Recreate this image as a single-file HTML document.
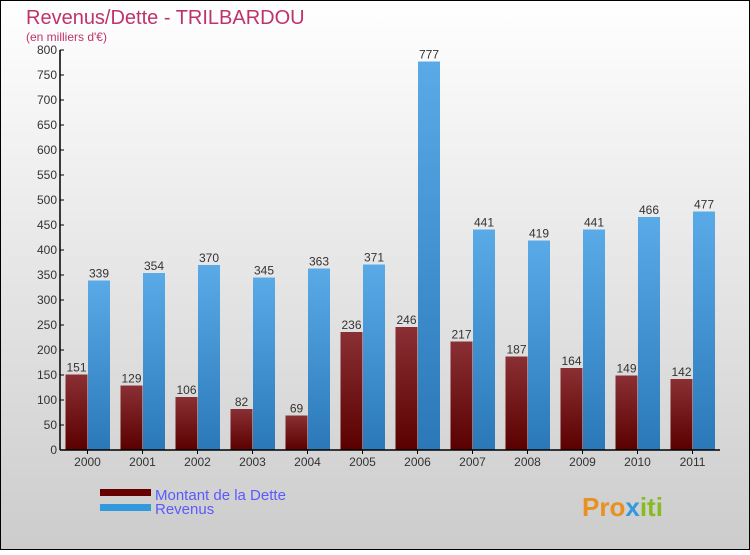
<!DOCTYPE html>
<html><head><meta charset="utf-8"><style>
body{margin:0;}
#c{width:750px;height:550px;position:relative;font-family:"Liberation Sans",sans-serif;}
</style></head><body>
<div id="c">
<svg id="s" width="750" height="550" xmlns="http://www.w3.org/2000/svg">
<defs>
<linearGradient id="bg" x1="0" y1="0" x2="0" y2="1"><stop offset="0" stop-color="#ffffff"/><stop offset="1" stop-color="#cccccc"/></linearGradient>
<linearGradient id="gd" x1="0" y1="0" x2="0" y2="1"><stop offset="0" stop-color="#8a3034"/><stop offset="1" stop-color="#5a0000"/></linearGradient>
<linearGradient id="gr" x1="0" y1="0" x2="0" y2="1"><stop offset="0" stop-color="#5aaae8"/><stop offset="1" stop-color="#2a78b8"/></linearGradient>
</defs>
<rect x="0.5" y="0.5" width="749" height="549" fill="url(#bg)" stroke="#000"/>
<text x="26" y="24" font-size="20" fill="#c0336a">Revenus/Dette - TRILBARDOU</text>
<text x="26" y="41" font-size="12" fill="#c0336a">(en milliers d'€)</text>
<g id="plot"></g>
<rect x="100" y="489" width="51" height="7" fill="#660000"/>
<text x="155" y="500" font-size="15" fill="#5a5aff">Montant de la Dette</text>
<rect x="100" y="504" width="51" height="7" fill="#3399dd"/>
<text x="155" y="514" font-size="15" fill="#5a5aff">Revenus</text>
<text x="582" y="516" font-size="26" font-weight="bold" fill="#e89020">Pro<tspan fill="#3399dd">x</tspan><tspan fill="#88bb22">iti</tspan></text>
</svg>
</div>
<script>
const years=["2000","2001","2002","2003","2004","2005","2006","2007","2008","2009","2010","2011"];
const debt=[151,129,106,82,69,236,246,217,187,164,149,142];
const revenue=[339,354,370,345,363,371,777,441,419,441,466,477];
const ticks=[0,50,100,150,200,250,300,350,400,450,500,550,600,650,700,750,800];
const NS="http://www.w3.org/2000/svg";
const g=document.getElementById('plot');
const x0=60,slot=55,y0=450,ppu=0.5;
const yS=v=>y0-v*ppu;
const xC=i=>x0+slot*(i+0.5);
function mk(t,a){const e=document.createElementNS(NS,t);for(const k in a)e.setAttribute(k,a[k]);g.appendChild(e);return e;}
years.forEach((yr,i)=>{
  const c=xC(i);
  const d=mk('rect',{x:c-22,y:yS(debt[i]),width:22,height:debt[i]*ppu,fill:'url(#gd)'});
  
  
  const r=mk('rect',{x:c+0.5,y:yS(revenue[i]),width:22,height:revenue[i]*ppu,fill:'url(#gr)'});
  
  
  const t1=mk('text',{x:c-11,y:yS(debt[i])-3,'font-size':12,fill:'#333','text-anchor':'middle'});t1.textContent=debt[i];
  
  
  const t2=mk('text',{x:c+11.5,y:yS(revenue[i])-3,'font-size':12,fill:'#333','text-anchor':'middle'});t2.textContent=revenue[i];
  
  
  const tk=mk('line',{x1:c,x2:c,y1:y0,y2:y0+4,stroke:'#000'});
  
  
  const xl=mk('text',{x:c,y:y0+16,'font-size':12,fill:'#333','text-anchor':'middle'});xl.textContent=yr;
  
  
});
ticks.forEach(v=>{
  const l=mk('line',{x1:x0,x2:x0+4,y1:yS(v),y2:yS(v),stroke:'#000'});
  
  
  const t=mk('text',{x:x0-3,y:yS(v)+4,'font-size':12,fill:'#333','text-anchor':'end'});t.textContent=v;
  
  
});
const ya=mk('line',{x1:x0,x2:x0,y1:yS(800),y2:y0,stroke:'#000','stroke-width':1.5});


const xa=mk('line',{x1:x0,x2:x0+slot*years.length,y1:y0,y2:y0,stroke:'#000','stroke-width':1.5});


</script>
</body></html>
